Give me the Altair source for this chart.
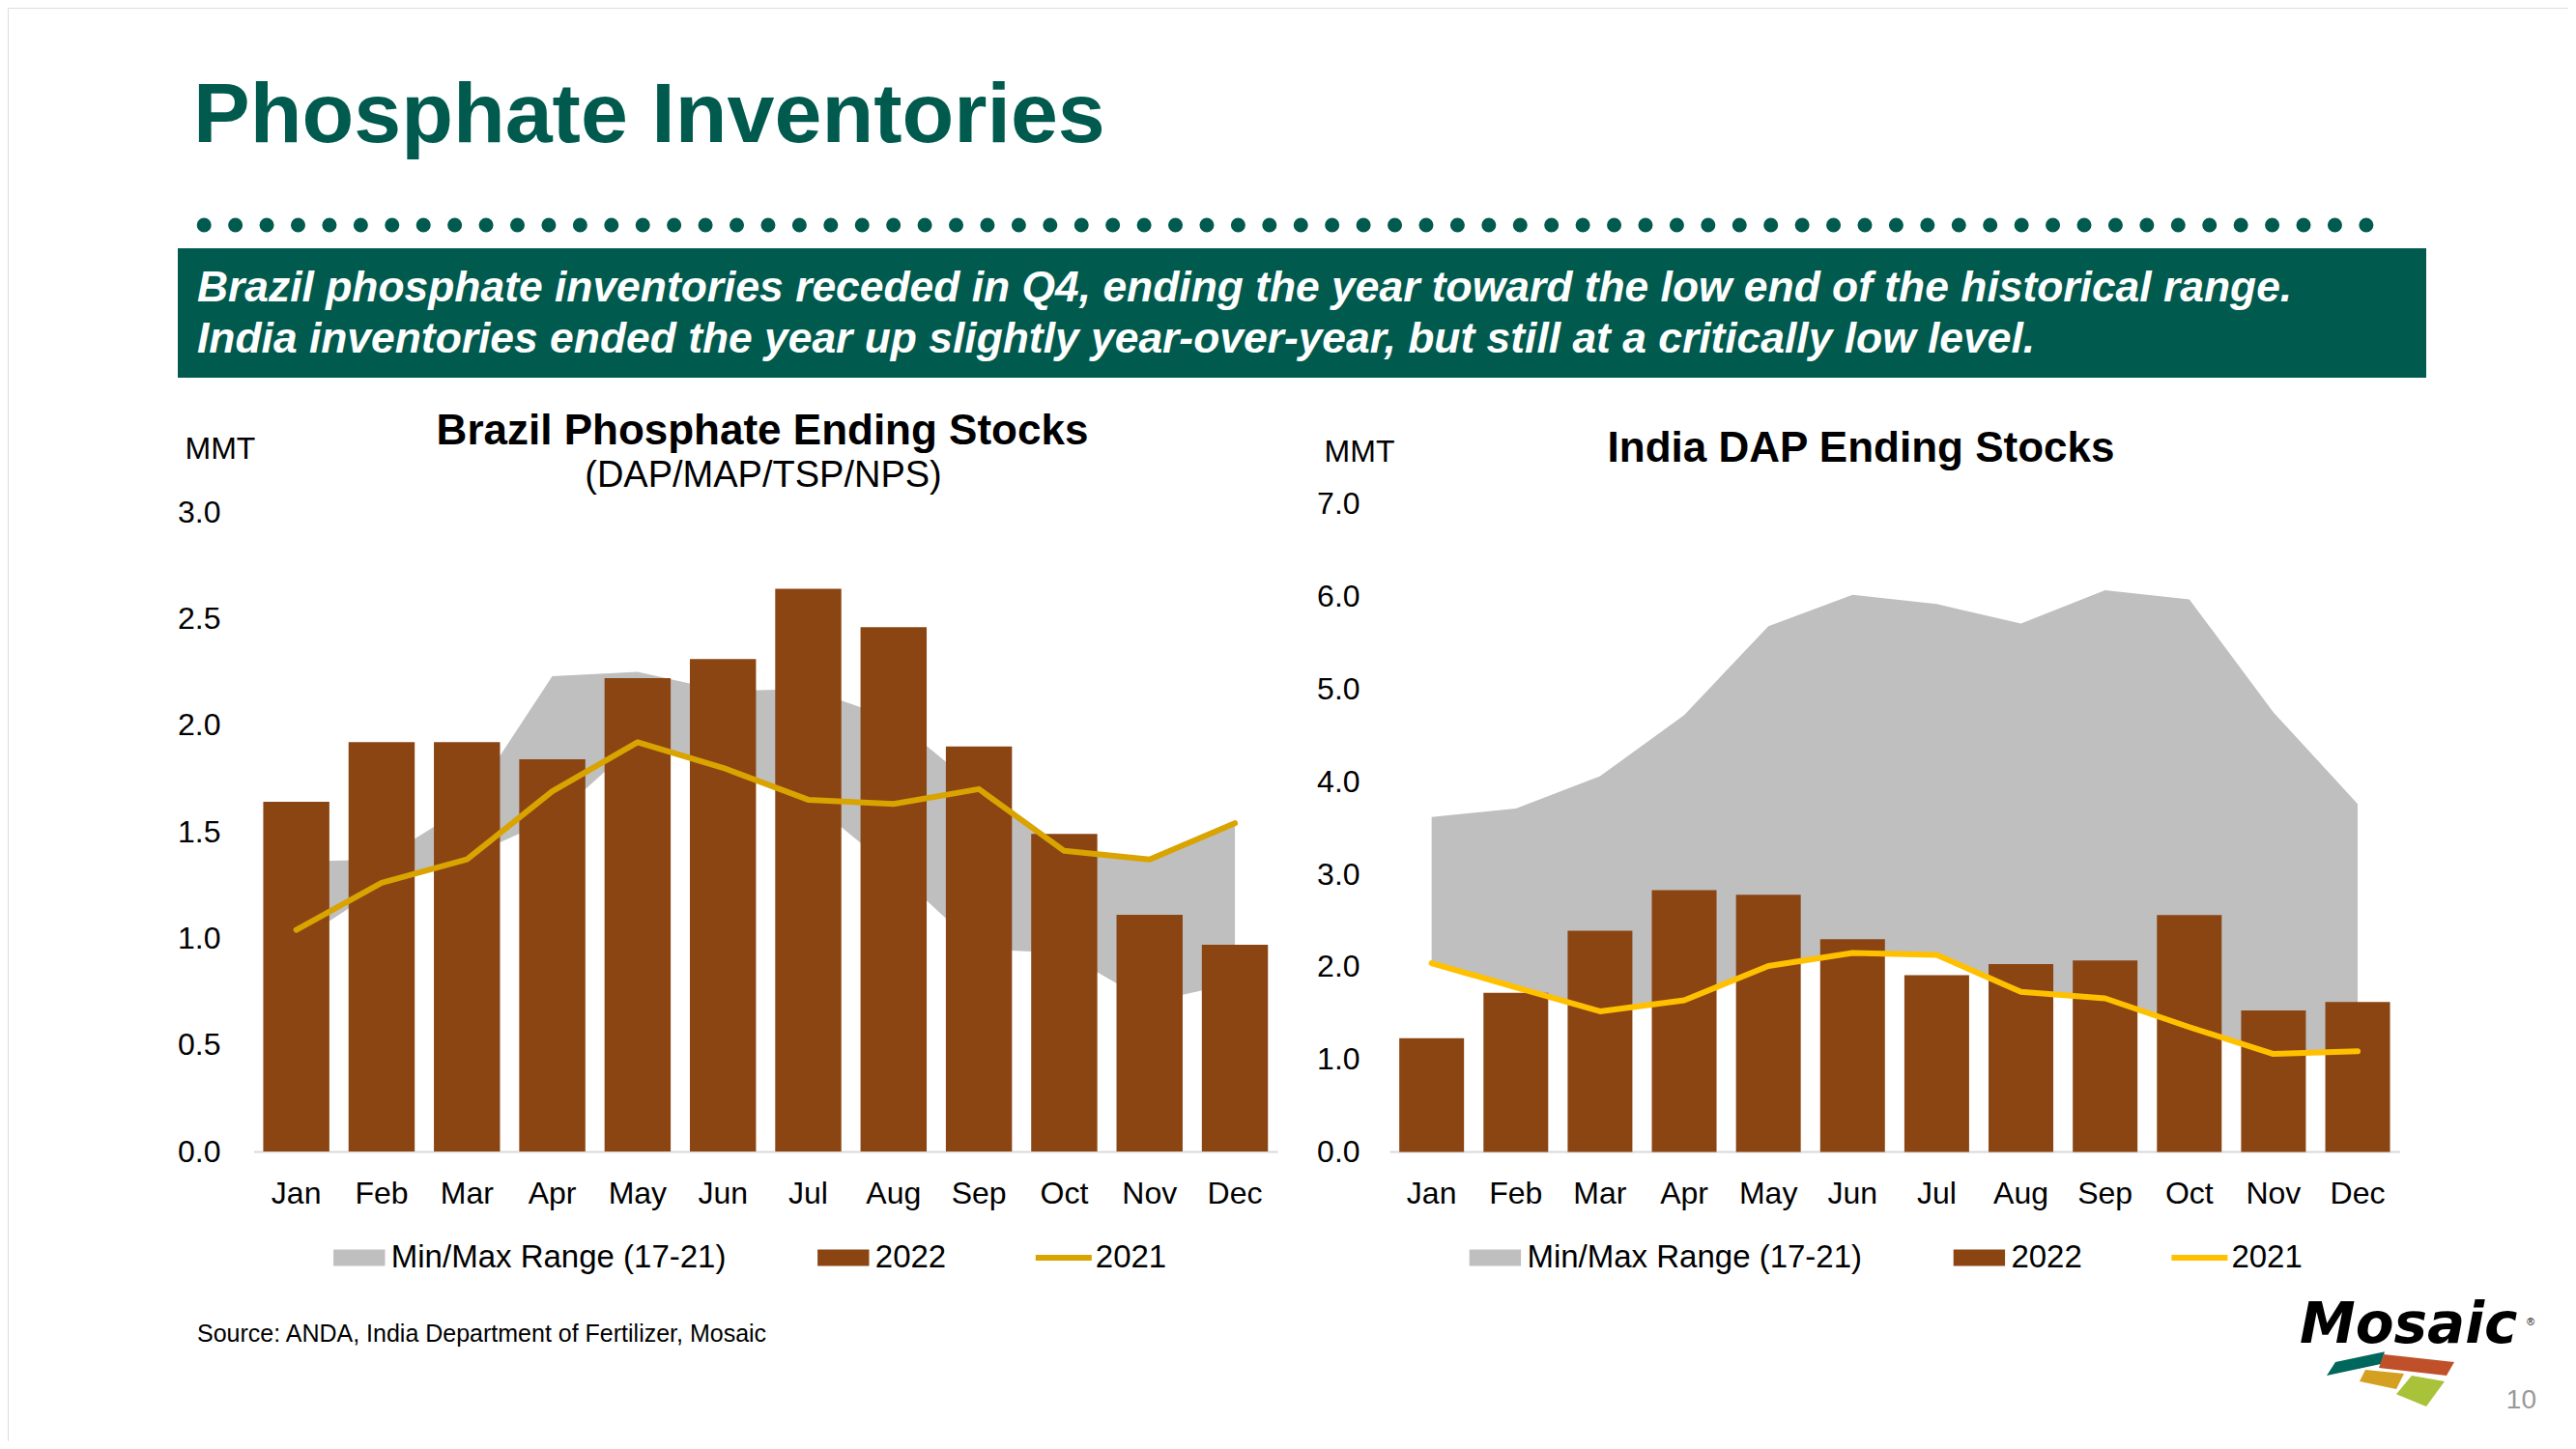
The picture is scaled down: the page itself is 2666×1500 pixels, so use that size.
import altair as alt
import pandas as pd

# ---------------- data ----------------
MONTHS = ["Jan", "Feb", "Mar", "Apr", "May", "Jun", "Jul", "Aug", "Sep", "Oct", "Nov", "Dec"]

BRAZIL_2022 = [1.64, 1.92, 1.92, 1.84, 2.22, 2.31, 2.64, 2.46, 1.90, 1.49, 1.11, 0.97]
BRAZIL_2021 = [1.04, 1.26, 1.37, 1.69, 1.92, 1.80, 1.65, 1.63, 1.70, 1.41, 1.37, 1.54]
BRAZIL_MAX = [1.36, 1.37, 1.62, 2.23, 2.25, 2.16, 2.17, 2.03, 1.70, 1.42, 1.37, 1.55]
BRAZIL_MIN = [0.98, 1.24, 1.38, 1.56, 1.92, 1.80, 1.65, 1.32, 0.95, 0.93, 0.70, 0.79]

INDIA_2022 = [1.23, 1.72, 2.39, 2.83, 2.78, 2.30, 1.91, 2.03, 2.07, 2.56, 1.53, 1.62]
INDIA_2021 = [2.04, 1.78, 1.52, 1.64, 2.01, 2.15, 2.13, 1.73, 1.66, 1.35, 1.06, 1.09]
INDIA_MAX = [3.62, 3.71, 4.06, 4.72, 5.68, 6.02, 5.92, 5.71, 6.07, 5.97, 4.75, 3.76]
INDIA_MIN = [2.04, 1.78, 1.52, 1.64, 2.01, 2.15, 2.13, 1.73, 1.66, 1.35, 1.06, 1.09]

SERIES = ["Min/Max Range (17-21)", "2022", "2021"]
BRAZIL_TICKS = [0.0, 0.5, 1.0, 1.5, 2.0, 2.5, 3.0]
INDIA_TICKS = [0.0, 1.0, 2.0, 3.0, 4.0, 5.0, 6.0, 7.0]

# ---------------- style ----------------
FONT = "Liberation Sans"
GREEN = "#005A4E"
GRAY = "#BFBFBF"
BROWN = "#8B4513"
GOLD_BR = "#D9A300"
GOLD_IN = "#FFC000"
RECT = "M-0.92,-0.29H0.92V0.29H-0.92Z"
LINE = "M-1,-0.1H1V0.1H-1Z"


def frame(v22, v21, vmax, vmin):
    return pd.DataFrame({"month": MONTHS, "v2022": v22, "v2021": v21, "max": vmax, "min": vmin})


def panel(df, x_range, pad_in, y_domain, y_range, ticks, axis_x, label_pad,
          title_x, title_y, line_color, legend_x):
    xsc = alt.Scale(domain=MONTHS, range=x_range, paddingInner=pad_in, paddingOuter=pad_in / 2)
    xax = alt.Axis(orient="bottom", offset=-300, title=None, labelAngle=0,
                   labelBaseline="alphabetic", labelPadding=53, ticks=False, grid=False,
                   domain=True, domainColor="#D9D9D9", domainWidth=2,
                   labelFont=FONT, labelFontSize=32, labelColor="#000000")
    x = alt.X("month:N", scale=xsc, axis=xax)
    ysc = alt.Scale(domain=y_domain, range=y_range, nice=False, zero=True)
    yax = alt.Axis(orient="left", offset=-axis_x, values=ticks, format=".1f", title="MMT",
                   titleAngle=0, titleAlign="left", titleBaseline="alphabetic",
                   titleX=title_x, titleY=title_y, titleFont=FONT, titleFontSize=32,
                   titleFontWeight="normal", titleColor="#000000",
                   labelPadding=label_pad, ticks=False, grid=False, domain=False,
                   labelFont=FONT, labelFontSize=32, labelColor="#000000")
    base = alt.Chart(df)
    area = base.mark_area(color=GRAY, opacity=1).encode(
        x=x, y=alt.Y("max:Q", scale=ysc, axis=yax), y2="min:Q")
    bar = base.mark_bar(color=BROWN).encode(
        x=x, y=alt.Y("v2022:Q", scale=ysc, axis=yax))
    line = base.mark_line(color=line_color, strokeWidth=6, strokeCap="round",
                          strokeJoin="round").encode(
        x=x, y=alt.Y("v2021:Q", scale=ysc, axis=yax))
    legend = alt.Legend(title=None, orient="none", legendX=legend_x, legendY=1265,
                        direction="horizontal", labelFont=FONT, labelFontSize=33,
                        labelColor="#000000", symbolSize=3364, symbolStrokeWidth=0,
                        columnPadding=92, labelOffset=4, padding=0, labelLimit=0)
    leg = alt.Chart(pd.DataFrame({"series": SERIES})).mark_point(
        filled=True, opacity=1, size=3364, strokeWidth=0).encode(
        x=alt.value(-500), y=alt.value(-500),
        color=alt.Color("series:N", scale=alt.Scale(domain=SERIES, range=[GRAY, BROWN, line_color]),
                        legend=legend),
        shape=alt.Shape("series:N", scale=alt.Scale(domain=SERIES, range=[RECT, RECT, LINE]),
                        legend=legend))
    return alt.layer(area, bar, line, leg)


def one():
    return alt.Chart(alt.Data(values=[{}]))


def txt(s, x, y, size, weight="normal", style="normal", color="#000000", align="left", font=FONT):
    return one().mark_text(text=s, fontSize=size, fontWeight=weight, fontStyle=style,
                           color=color, align=align, baseline="alphabetic", font=font).encode(
        x=alt.value(x), y=alt.value(y))


def logo_piece(path, color):
    return one().mark_point(shape=path, size=6400, filled=True, color=color, opacity=1,
                            strokeWidth=0).encode(x=alt.value(2462), y=alt.value(1420))


brazil = panel(frame(BRAZIL_2022, BRAZIL_2021, BRAZIL_MAX, BRAZIL_MIN),
               [254.5, 1314.2], 0.225, [0, 3], [1184, 522], BRAZIL_TICKS,
               254.5, 34.5, -71.5, 466, GOLD_BR, 334.8)
india = panel(frame(INDIA_2022, INDIA_2021, INDIA_MAX, INDIA_MIN),
              [1430.1, 2475.6], 0.231, [0, 7], [1184.6, 513.8], INDIA_TICKS,
              1430.1, 31, -68, 469, GOLD_IN, 1510.4)

banner = one().mark_rect(color=GREEN).encode(
    x=alt.value(176), x2=alt.value(2503), y=alt.value(249), y2=alt.value(383))
dots = one().mark_rule(color=GREEN, strokeWidth=15, strokeCap="round",
                       strokeDash=[0.01, 32.42]).encode(
    x=alt.value(203.2), x2=alt.value(2441), y=alt.value(225))

deco = [
    banner,
    dots,
    txt("Phosphate Inventories", 192, 139, 88, weight="bold", color=GREEN),
    txt("Brazil phosphate inventories receded in Q4, ending the year toward the low end of the historical range.",
        196, 304, 44.4, weight="bold", style="italic", color="#FFFFFF"),
    txt("India inventories ended the year up slightly year-over-year, but still at a critically low level.",
        196, 357, 44.4, weight="bold", style="italic", color="#FFFFFF"),
    txt("Brazil Phosphate Ending Stocks", 781, 452, 44, weight="bold", align="center"),
    txt("(DAP/MAP/TSP/NPS)", 782, 496, 38, align="center"),
    txt("India DAP Ending Stocks", 1918, 470, 44, weight="bold", align="center"),
    txt("Source: ANDA, India Department of Fertilizer, Mosaic", 196, 1381, 25),
    txt("10", 2617, 1450, 28, color="#999999", align="right"),
    txt("Mosaic", 2372, 1382, 58, weight="bold", style="italic", font="DejaVu Sans"),
    txt("®", 2607, 1364, 11),
    logo_piece("M-1.325,-0.45L-0.05,-0.72L-0.15,-0.4L-1.55,-0.1Z", "#00675C"),
    logo_piece("M-0.075,-0.65L1.75,-0.45L1.55,-0.1L-0.2,-0.3Z", "#C0502A"),
    logo_piece("M-0.55,-0.25L0.45,-0.15L0.25,0.25L-0.7,0.05Z", "#D4A021"),
    logo_piece("M0.65,-0.1L1.5,0.05L1.025,0.7L0.25,0.38Z", "#A8C23A"),
]

chart = alt.layer(*deco, brazil, india).resolve_scale(
    x="independent", y="independent", color="independent", shape="independent"
).resolve_legend(color="independent", shape="independent").properties(
    width=2650, height=1484, padding=0,
    autosize=alt.AutoSizeParams(type="none"),
).configure_view(stroke="transparent", strokeWidth=0).configure(font=FONT, background="transparent")

chart.save("out.html", embed_options={"renderer": "svg", "actions": False})
